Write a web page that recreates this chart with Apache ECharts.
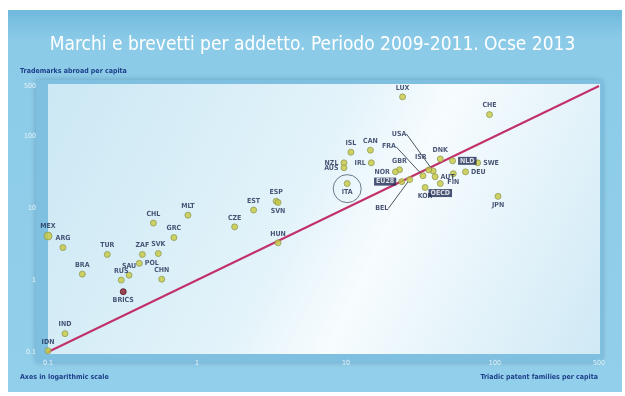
<!DOCTYPE html>
<html>
<head>
<meta charset="utf-8">
<script src="https://cdn.jsdelivr.net/npm/echarts@6/dist/echarts.min.js"></script>
<style>
  html, body { margin: 0; padding: 0; background: #ffffff; }
  #chart { width: 625px; height: 396px; }
</style>
</head>
<body>
<div id="chart"></div>
<script>
// Country codes with triadic patent families and trademarks abroad per capita (2009-2011)
const countries = ['LUX','CHE','ISL','CAN','NZL','AUS','IRL','ITA','GBR','NOR','EU28','BEL','FRA','USA','ISR','KOR','DNK','NLD','AUT','FIN','OECD','DEU','SWE','JPN',
  'HUN','ESP','SVN','EST','CZE','MLT','CHL','GRC','ZAF','SVK','POL','SAU','CHN','RUS','BRICS','TUR','BRA','ARG','MEX','IND','IDN'];
const patents = [24, 92, 10.8, 14.6, 9.7, 9.7, 14.8, 10.2, 22.9, 21.5, 23.7, 26.8, 32.9, 38.5, 36, 34, 43, 52, 39.7, 52.6, 43, 63.5, 76.6, 105,
  3.5, 3.4, 3.5, 2.4, 1.79, 0.87, 0.51, 0.70, 0.43, 0.55, 0.41, 0.35, 0.58, 0.31, 0.32, 0.25, 0.17, 0.126, 0.1, 0.13, 0.1];
const trademarks = [353, 200, 60, 64, 42.7, 36.5, 42.7, 22, 34.2, 32, 23.4, 25, 28.3, 33, 34, 19.4, 48.4, 45.5, 27.4, 30.2, 22, 32, 42.7, 14.6,
  3.3, 12.5, 12, 9.4, 5.5, 8.0, 6.2, 3.9, 2.27, 2.34, 1.71, 1.17, 1.03, 1.0, 0.69, 2.27, 1.21, 2.83, 4.1, 0.18, 0.104];
const tickValues = [0.1, 1, 10, 100, 500];
const parityLine = [[0.1, 0.1], [500, 500]];
const highlighted = 'ITA';

// label placement around the markers
const labelRight = ['SWE','DEU','POL','NLD','AUT'];
const labelBottom = ['ITA','KOR','OECD','SVN','BRICS','JPN','FIN'];
const labelLeft = ['NZL','AUS','IRL','NOR','EU28'];
const darkBoxes = ['NLD','EU28','OECD'];
const leaders = { USA: [-34, -28], FRA: [-34, -20], BEL: [-28, 38], ISR: [-8, -4] };

const labelFont = '"DejaVu Sans Condensed", "Liberation Sans Narrow", "Liberation Sans", sans-serif';

const chart = echarts.init(document.getElementById('chart'), null, { renderer: 'canvas' });

const points = countries.map((c, i) => {
  const item = { name: c, value: [patents[i], trademarks[i]] };
  const lbl = {};
  if (labelRight.includes(c)) lbl.position = 'right';
  else if (labelBottom.includes(c)) lbl.position = 'bottom';
  else if (labelLeft.includes(c)) lbl.position = 'left';
  if (darkBoxes.includes(c)) {
    Object.assign(lbl, { color: '#ffffff', backgroundColor: '#1e2a52', padding: [1, 2, 0, 2] });
  }
  item.label = lbl;
  if (c === 'BRICS') item.itemStyle = { color: '#8a1c2c', borderColor: '#5a1018' };
  if (c === 'MEX') item.symbolSize = 8;
  if (leaders[c] && c !== 'ISR') {
    item.labelLine = { show: true, lineStyle: { color: '#4a5560', width: 1 } };
  }
  return item;
});

const hi = countries.indexOf(highlighted);

chart.setOption({
  animation: false,
  textStyle: { fontFamily: labelFont },
  graphic: [
    { type: 'rect', z: -10, shape: { x: 8, y: 10, width: 614, height: 382 },
      style: { fill: new echarts.graphic.LinearGradient(0, 0, 0, 1, [
        { offset: 0, color: '#6fb9dd' }, { offset: 0.08, color: '#8ccbe8' }, { offset: 1, color: '#92cfea' }]) } },
    { type: 'rect', z: -9, shape: { x: 36, y: 80, width: 566, height: 282 },
      style: { fill: '#7fc0e0', shadowBlur: 6, shadowColor: 'rgba(40,90,130,0.4)' } },
    { type: 'rect', z: -8, shape: { x: 48, y: 84, width: 552, height: 270 },
      style: { fill: new echarts.graphic.LinearGradient(0, 0, 1, 1, [
        { offset: 0, color: '#cbe8f4' }, { offset: 0.45, color: '#e3f3fa' },
        { offset: 0.6, color: '#f7fcfe' }, { offset: 1, color: '#cfe9f5' }]) } },
    { type: 'text', left: 'center', top: 36, style: {
        text: 'Marchi e brevetti per addetto. Periodo 2009-2011. Ocse 2013',
        fill: '#ffffff', font: '19px ' + labelFont,
        shadowColor: 'rgba(30,70,110,0.5)', shadowBlur: 2 } },
    { type: 'text', left: 20, top: 68, style: {
        text: 'Trademarks abroad per capita', fill: '#1d3f8a',
        font: 'bold 7px ' + labelFont } },
    { type: 'text', left: 20, top: 374, style: {
        text: 'Axes in logarithmic scale', fill: '#1d3f8a',
        font: 'bold 7px ' + labelFont } },
    { type: 'text', right: 27, top: 374, style: {
        text: 'Triadic patent families per capita', fill: '#1d3f8a',
        font: 'bold 7px ' + labelFont } }
  ],
  grid: { left: 48, right: 26, top: 86, bottom: 44 },
  xAxis: {
    type: 'log', logBase: 10, min: 0.1, max: 500,
    axisLine: { show: false }, splitLine: { show: false },
    axisTick: { show: false },
    axisLabel: { customValues: tickValues, color: '#e6f3fa', fontSize: 7, margin: 8,
      formatter: v => String(+v.toPrecision(3)) }
  },
  yAxis: {
    type: 'log', logBase: 10, min: 0.1, max: 500,
    axisLine: { show: false }, splitLine: { show: false },
    axisTick: { show: false },
    axisLabel: { customValues: tickValues, color: '#e6f3fa', fontSize: 7, margin: 12,
      formatter: v => String(+v.toPrecision(3)) }
  },
  series: [
    {
      type: 'line', data: parityLine, symbol: 'none', silent: true, z: 2,
      lineStyle: { color: '#c2306a', width: 2 }
    },
    {
      type: 'scatter', data: points, symbolSize: 6, z: 3,
      itemStyle: { color: '#c9c83c', borderColor: '#8f9c5a', borderWidth: 1 },
      label: { show: true, position: 'top', distance: 2, formatter: '{b}',
        color: '#1e2a52', fontSize: 7, fontWeight: 'bold', fontFamily: labelFont },
      labelLayout: function (params) {
        const off = leaders[countries[params.dataIndex]];
        return off ? { dx: off[0], dy: off[1] } : {};
      }
    },
    {
      type: 'scatter', silent: true, z: 1,
      data: [[patents[hi], trademarks[hi] * 0.85]], symbolSize: 28,
      itemStyle: { color: 'rgba(0,0,0,0)', borderColor: '#4a5a6a', borderWidth: 1 }
    }
  ]
});
</script>
</body>
</html>
